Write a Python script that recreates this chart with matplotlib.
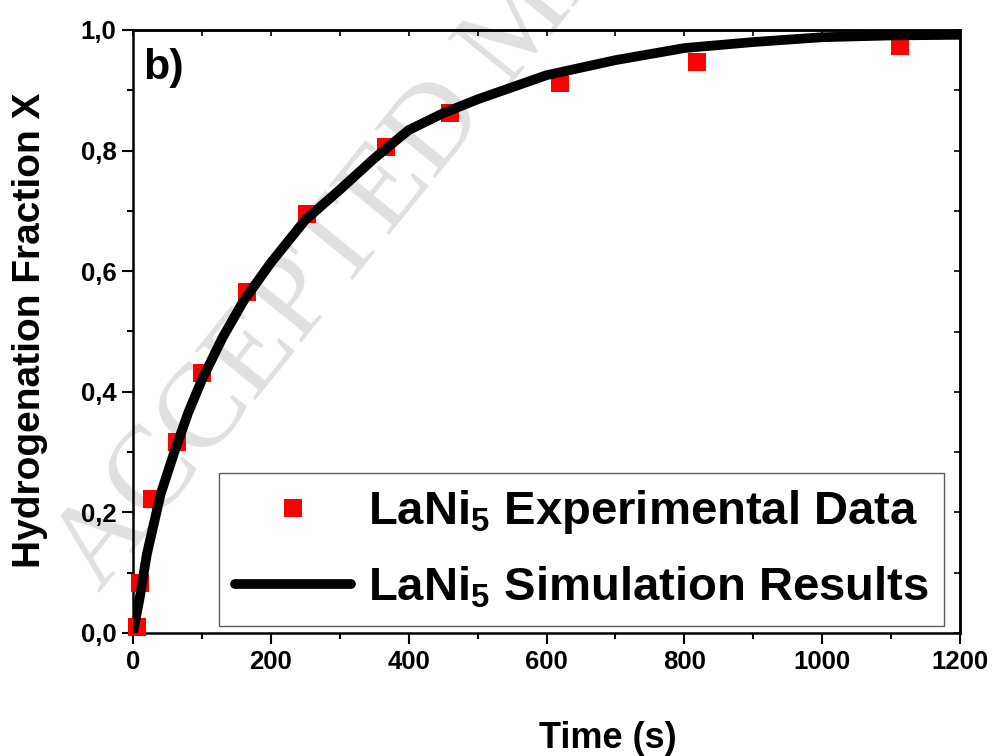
import matplotlib
matplotlib.use('Agg')
import matplotlib.pyplot as plt
from matplotlib.ticker import MultipleLocator, FuncFormatter

plt.rcParams['font.family'] = 'Liberation Sans'
plt.rcParams['font.weight'] = 'bold'
plt.rcParams['mathtext.fontset'] = 'custom'
plt.rcParams['mathtext.rm'] = 'Liberation Sans:bold'
plt.rcParams['mathtext.bf'] = 'Liberation Sans:bold'
plt.rcParams['mathtext.default'] = 'bf'

# experimental points
t_exp = [6, 10, 28, 64, 100, 165, 252, 367, 460, 620, 818, 1113]
x_exp = [0.01, 0.083, 0.222, 0.317, 0.431, 0.565, 0.695, 0.806, 0.862, 0.912, 0.947, 0.973]

# simulation curve
t_sim = [0, 10, 20, 40, 60, 80, 100, 130, 160, 200, 250, 300, 350, 400, 450, 500,
         600, 700, 800, 900, 1000, 1100, 1200]
x_sim = [0.0, 0.06, 0.13, 0.23, 0.30, 0.365, 0.42, 0.49, 0.55, 0.614, 0.685, 0.735,
         0.787, 0.834, 0.862, 0.885, 0.925, 0.950, 0.970, 0.980, 0.988, 0.991, 0.992]

lbl_exp = r'LaNi$_{5}$ Experimental Data'
lbl_sim = r'LaNi$_{5}$ Simulation Results'

fig = plt.figure(figsize=(9.93, 7.56), dpi=100)
ax = fig.add_axes([133/993, 1-633/756, 827/993, 603/756])
ax.patch.set_alpha(0)

# watermark
fig.text(0.10, 0.215, 'ACCEPTED MANUSCRIPT', family='Liberation Serif', fontweight='normal',
         fontsize=86, color='#e0e0e0', rotation=51, rotation_mode='anchor',
         ha='left', va='baseline', zorder=-1)

ax.plot(t_exp, x_exp, 's', color='#ff0000', markersize=13, markeredgewidth=0,
        label=lbl_exp, zorder=3, clip_on=False)
ax.plot(t_sim, x_sim, '-', color='black', linewidth=7, label=lbl_sim, zorder=4,
        solid_capstyle='round')

ax.set_xlim(0, 1200)
ax.set_ylim(0, 1.0)
ax.xaxis.set_major_locator(MultipleLocator(200))
ax.xaxis.set_minor_locator(MultipleLocator(100))
ax.yaxis.set_major_locator(MultipleLocator(0.2))
ax.yaxis.set_minor_locator(MultipleLocator(0.1))
ax.yaxis.set_major_formatter(FuncFormatter(lambda v, p: ('%.1f' % v).replace('.', ',')))

for s in ax.spines.values():
    s.set_linewidth(1.8)
ax.tick_params(which='major', direction='out', length=8, width=1.5, labelsize=18.5, pad=4)
ax.tick_params(which='minor', direction='out', length=4, width=1.5)

top = ax.secondary_xaxis('top')
top.xaxis.set_major_locator(MultipleLocator(200))
top.xaxis.set_minor_locator(MultipleLocator(100))
top.tick_params(which='both', direction='in', length=4, width=1.2, labeltop=False)
right = ax.secondary_yaxis('right')
right.yaxis.set_major_locator(MultipleLocator(0.2))
right.yaxis.set_minor_locator(MultipleLocator(0.1))
right.tick_params(which='both', direction='in', length=4, width=1.2, labelright=False)
for sa in (top, right):
    for s in sa.spines.values():
        s.set_linewidth(1.8)

ax.text(0.012, 0.97, 'b)', transform=ax.transAxes, fontsize=31, fontweight='bold',
        ha='left', va='top')

fig.text(608/993, 1-738/756, 'Time (s)', fontsize=26, fontweight='bold', ha='center', va='center')
fig.text(30/993, 1-330/756, 'Hydrogenation Fraction X', fontsize=28, fontweight='bold',
         rotation=90, ha='center', va='center')

leg = ax.legend(loc='lower right', bbox_to_anchor=(0.981, 0.012), fontsize=34, frameon=True,
                fancybox=False, edgecolor='#333333', handlelength=2.45, handletextpad=0.36,
                borderpad=0.33, labelspacing=0.6, borderaxespad=0)
leg.get_frame().set_linewidth(1.0)

fig.savefig('out.png', dpi=100)
